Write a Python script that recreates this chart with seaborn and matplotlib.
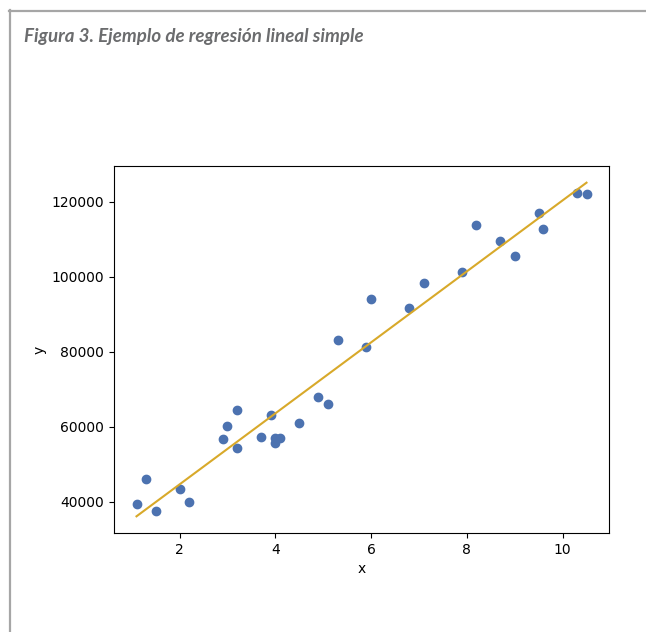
import matplotlib
matplotlib.use("Agg")
import matplotlib.pyplot as plt
import pandas as pd
import seaborn as sns
from matplotlib.lines import Line2D


# Datos: anos de experiencia vs salario
YEARS = [1.1, 1.3, 1.5, 2.0, 2.2, 2.9, 3.0, 3.2, 3.2, 3.7,
         3.9, 4.0, 4.0, 4.1, 4.5, 4.9, 5.1, 5.3, 5.9, 6.0,
         6.8, 7.1, 7.9, 8.2, 8.7, 9.0, 9.5, 9.6, 10.3, 10.5]
SALARY = [39343, 46205, 37731, 43525, 39891, 56642, 60150, 54445, 64445, 57189,
          63218, 55794, 56957, 57081, 61111, 67938, 66029, 83088, 81363, 93940,
          91738, 98273, 101302, 113812, 109431, 105582, 116969, 112635, 122391, 121872]

TITLE = "Figura 3. Ejemplo de regresión lineal simple"

POINT_COLOR = "#4c72b0"
LINE_COLOR = "#d8a92a"
FRAME_COLOR = "#a6a6a6"


def main() -> None:
    df = pd.DataFrame({"x": YEARS, "y": SALARY})

    W, H = 646, 632
    fig = plt.figure(figsize=(W / 100, H / 100), dpi=100)
    fig.patch.set_facecolor("white")

    # marco gris (arriba e izquierda)
    fig.add_artist(Line2D([9 / W, 1.0], [1 - 10.5 / H, 1 - 10.5 / H],
                          transform=fig.transFigure, color=FRAME_COLOR, lw=1.6))
    fig.add_artist(Line2D([9.5 / W, 9.5 / W], [1 - 10 / H, 0.0],
                          transform=fig.transFigure, color=FRAME_COLOR, lw=1.6))

    fig.text(24 / W, 1 - 42 / H, TITLE, fontsize=13.5, fontweight="bold",
             fontstyle="italic", color="#6b6c6e",
             family=["Lato", "Open Sans", "DejaVu Sans"], va="baseline")

    ax = fig.add_axes([114 / W, 1 - 533 / H, 495 / W, 367 / H])
    sns.regplot(data=df, x="x", y="y", ax=ax, ci=None,
                scatter_kws={"color": POINT_COLOR, "alpha": 1, "s": 36},
                line_kws={"color": LINE_COLOR, "lw": 1.5})
    ax.set_xticks([2, 4, 6, 8, 10])
    ax.set_yticks([40000, 60000, 80000, 100000, 120000])

    fig.savefig("out.png", dpi=100)


if __name__ == "__main__":
    main()
